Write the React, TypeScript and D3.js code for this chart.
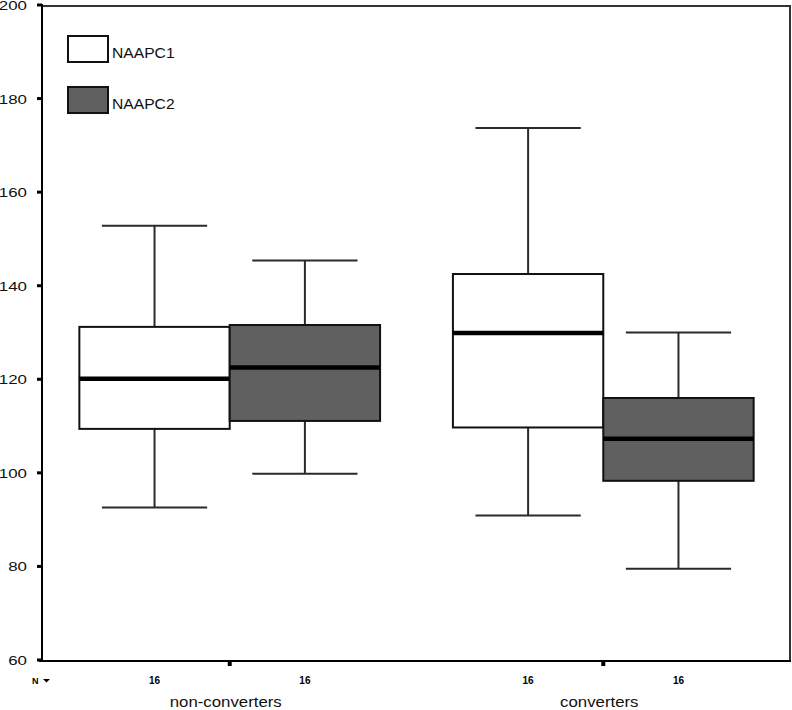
import React from "react";
import * as d3 from "d3";

const categories = ["non-converters", "converters"];
const seriesNames = ["NAAPC1", "NAAPC2"];
const seriesFill = ["#ffffff", "#606060"];
const nCounts = [[16, 16], [16, 16]]; // [category][series]

const naapc1Min = [92.6, 90.9];
const naapc1Q1 = [109.4, 109.7];
const naapc1Median = [120.1, 129.9];
const naapc1Q3 = [131.2, 142.5];
const naapc1Max = [152.8, 173.7];

const naapc2Min = [99.8, 79.5];
const naapc2Q1 = [111.1, 98.3];
const naapc2Median = [122.5, 107.3];
const naapc2Q3 = [131.6, 116.0];
const naapc2Max = [145.4, 130.0];

const yTicks = [60, 80, 100, 120, 140, 160, 180, 200];

const W = 792;
const H = 710;
const left = 42;
const right = 790;
const top = 6;
const bottom = 660;

export default function App() {
  const y = d3.scaleLinear().domain([60, 200]).range([bottom, 5]);
  const x0 = d3
    .scaleBand<string>()
    .domain(categories)
    .range([left, right + 1])
    .paddingInner(0.195)
    .paddingOuter(0.1);
  const x1 = d3
    .scaleBand<string>()
    .domain(seriesNames)
    .range([0, x0.bandwidth()])
    .padding(0);

  const stats = [
    { min: naapc1Min, q1: naapc1Q1, med: naapc1Median, q3: naapc1Q3, max: naapc1Max },
    { min: naapc2Min, q1: naapc2Q1, med: naapc2Median, q3: naapc2Q3, max: naapc2Max },
  ];

  const bw = x1.bandwidth();
  const capW = bw * 0.7;

  const boxes: React.ReactNode[] = [];
  const nLabels: React.ReactNode[] = [];
  categories.forEach((c, ci) => {
    seriesNames.forEach((s, si) => {
      const st = stats[si];
      const bx = (x0(c) as number) + (x1(s) as number);
      const cx = bx + bw / 2;
      boxes.push(
        <g key={`${c}-${s}`}>
          <line x1={cx} x2={cx} y1={y(st.max[ci])} y2={y(st.q3[ci])} stroke="#2a2a2a" strokeWidth={2} />
          <line x1={cx} x2={cx} y1={y(st.q1[ci])} y2={y(st.min[ci])} stroke="#2a2a2a" strokeWidth={2} />
          <line x1={cx - capW / 2} x2={cx + capW / 2} y1={y(st.max[ci])} y2={y(st.max[ci])} stroke="#2a2a2a" strokeWidth={2} />
          <line x1={cx - capW / 2} x2={cx + capW / 2} y1={y(st.min[ci])} y2={y(st.min[ci])} stroke="#2a2a2a" strokeWidth={2} />
          <rect
            x={bx}
            y={y(st.q3[ci])}
            width={bw}
            height={y(st.q1[ci]) - y(st.q3[ci])}
            fill={seriesFill[si]}
            stroke="#111"
            strokeWidth={2}
          />
          <line x1={bx} x2={bx + bw} y1={y(st.med[ci])} y2={y(st.med[ci])} stroke="#000" strokeWidth={4.5} />
        </g>
      );
      nLabels.push(
        <text
          key={`n-${c}-${s}`}
          x={cx}
          y={684}
          textAnchor="middle"
          fontSize={10}
          fontWeight="bold"
          fontFamily="Liberation Sans, Arial, sans-serif"
        >
          {nCounts[ci][si]}
        </text>
      );
    });
  });

  return (
    <svg
      width={W}
      height={H}
      style={{ position: "absolute", left: 0, top: 0, background: "#fff" }}
      fontFamily="Liberation Sans, Arial, sans-serif"
    >
      <rect x={0} y={0} width={W} height={H} fill="#fff" />
      {/* frame */}
      <line x1={left} x2={right} y1={top} y2={top} stroke="#333" strokeWidth={2} />
      <line x1={right} x2={right} y1={top - 1} y2={bottom + 1} stroke="#333" strokeWidth={2} />

      {boxes}

      {/* y axis */}
      <line x1={left} x2={left} y1={4} y2={bottom + 1} stroke="#000" strokeWidth={2} />
      {yTicks.map((t) => (
        <g key={t}>
          <rect x={left - 5} y={y(t) - 1.5} width={5} height={3} fill="#000" />
          <g transform={`translate(27,${y(t) + 5}) scale(1.3,1)`}>
            <text x={0} y={0} textAnchor="end" fontSize={13} fill="#111">
              {t}
            </text>
          </g>
        </g>
      ))}

      {/* x axis */}
      <line x1={left - 3} x2={right + 1} y1={bottom + 1} y2={bottom + 1} stroke="#000" strokeWidth={2} />
      {categories.map((c) => {
        const cx = (x0(c) as number) + x0.bandwidth() / 2;
        return (
          <g key={c}>
            <rect x={cx - 2} y={bottom + 2} width={4} height={4} fill="#000" />
            <g transform={`translate(${cx - 4},707) scale(1.2,1)`}>
              <text x={0} y={0} textAnchor="middle" fontSize={14} fill="#111">
                {c}
              </text>
            </g>
          </g>
        );
      })}
      {nLabels}
      <text x={32} y={684} fontSize={9} fontWeight="bold">
        N
      </text>
      <path d="M43,679 L50,679 L46.5,682.5 Z" fill="#000" />

      {/* legend */}
      {seriesNames.map((s, i) => (
        <g key={s}>
          <rect x={68} y={36 + i * 51} width={40} height={26} fill={seriesFill[i]} stroke="#111" strokeWidth={2} />
          <g transform={`translate(112,${58 + i * 51}) scale(1.08,1)`}>
            <text x={0} y={0} fontSize={14.5} fill="#111">
              {s}
            </text>
          </g>
        </g>
      ))}
    </svg>
  );
}
